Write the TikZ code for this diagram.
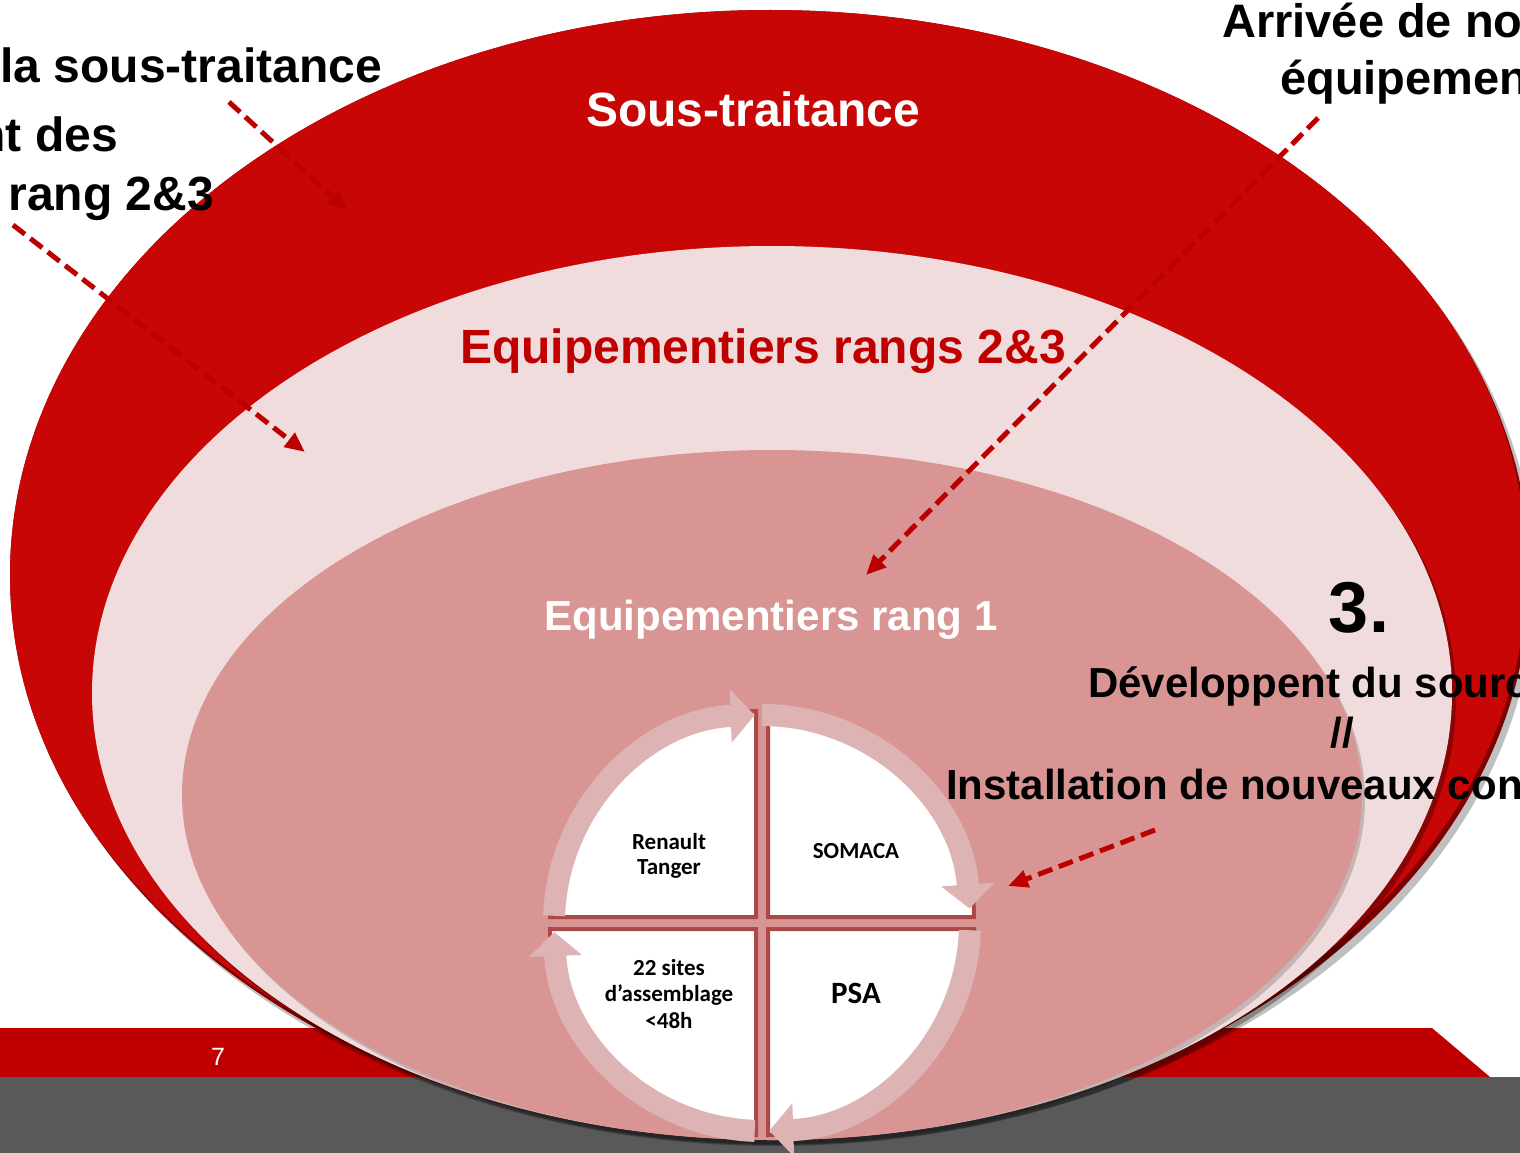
\documentclass[tikz,border=0pt]{standalone}
\usepackage{fontspec}
\setmainfont{Liberation Sans}
\newfontfamily\cbfont{Carlito}
\usetikzlibrary{arrows.meta}
\definecolor{ringred}{RGB}{200,6,6}
\definecolor{darkedge}{RGB}{125,0,0}
\definecolor{lightpink}{RGB}{240,220,220}
\definecolor{midpink}{RGB}{217,149,148}
\definecolor{barred}{RGB}{192,0,0}
\definecolor{bargray}{RGB}{89,89,89}
\definecolor{arcpink}{RGB}{221,179,179}
\definecolor{quadedge}{RGB}{173,72,72}
\definecolor{arrowred}{RGB}{188,0,0}
\definecolor{titlered}{RGB}{192,0,0}
\begin{document}
\begin{tikzpicture}[x=1pt,y=-1pt,
  bigtxt/.style={font=\bfseries\fontsize{48}{56}\selectfont, inner sep=0pt},
  sidetxt/.style={font=\bfseries\fontsize{48}{56}\selectfont, inner sep=0pt, text=black},
  toptxt/.style={font=\bfseries\fontsize{47}{54}\selectfont, inner sep=0pt, text=black},
  righttxt/.style={font=\bfseries\fontsize{42}{50}\selectfont, inner sep=0pt, text=black},
  quadtxt/.style={font=\cbfont\bfseries\fontsize{23}{25}\selectfont, align=center, inner sep=0pt, text=black},
  dasharrow/.style={draw=arrowred, line width=5pt, dash pattern=on 15pt off 7pt, -{Triangle[length=20pt,width=17pt]}},
  cyclearc/.style={draw=arcpink, line width=22pt, -{Triangle[length=24pt,width=52pt]}},
  quad/.style={fill=white, draw=quadedge, line width=4pt}
]
\useasboundingbox (0,0) rectangle (1520,1153);
\clip (0,0) rectangle (1520,1153);

% footer bars
\fill[barred] (0,1028) -- (1432,1028) -- (1490,1077) -- (0,1077) -- cycle;
\fill[bargray] (0,1077) rectangle (1520,1153);
\node[text=white, font=\fontsize{25}{28}\selectfont, inner sep=0pt] (pagenum) at (218,1057) {7};

% outer ellipse
\fill[black, opacity=0.25] (775,581) ellipse [x radius=760pt, y radius=565pt];
\fill[darkedge] (770,575) ellipse [x radius=760pt, y radius=565pt];
\begin{scope}
  \clip (770,575) ellipse [x radius=760pt, y radius=565pt];
  \fill[ringred] (767,570) ellipse [x radius=760pt, y radius=565pt];
\end{scope}

% middle ellipse
\fill[black, opacity=0.3] (776,698) ellipse [x radius=680pt, y radius=447pt];
\fill[lightpink] (772,693) ellipse [x radius=680pt, y radius=447pt];

% inner ellipse
\fill[black, opacity=0.18] (775,799) ellipse [x radius=590pt, y radius=345pt];
\fill[midpink] (772,795) ellipse [x radius=590pt, y radius=345pt];

% titles
\node[bigtxt, text=white, anchor=base] (soustraitance) at (753,127) {Sous-traitance};
\node[bigtxt, text=titlered, anchor=base] (rangs23) at (763,363) {Equipementiers rangs 2\&3};
\node[font=\bfseries\fontsize{42}{50}\selectfont, inner sep=0pt, text=white, anchor=base] (rang1) at (771,630) {Equipementiers rang 1};

% central cycle
\coordinate (C) at (762,923);
\path[quad] (756,917) -- ++(180:206pt) arc[start angle=180, end angle=90, radius=206pt] -- cycle;
\path[quad] (768,917) -- ++(90:206pt) arc[start angle=90, end angle=0, radius=206pt] -- cycle;
\path[quad] (768,929) -- ++(0:206pt) arc[start angle=0, end angle=-90, radius=206pt] -- cycle;
\path[quad] (756,929) -- ++(-90:206pt) arc[start angle=-90, end angle=-180, radius=206pt] -- cycle;

\draw[cyclearc] ([shift={(178:208pt)}]C) arc[start angle=178, end angle=92, radius=208pt];
\draw[cyclearc] ([shift={(90:208pt)}]C) arc[start angle=90, end angle=4, radius=208pt];
\draw[cyclearc] ([shift={(-2:208pt)}]C) arc[start angle=-2, end angle=-88, radius=208pt];
\draw[cyclearc] ([shift={(-92:208pt)}]C) arc[start angle=-92, end angle=-177.5, radius=208pt];

\node[quadtxt] (renault) at (669,856) {Renault\\Tanger};
\node[quadtxt] (somaca) at (856,851) {SOMACA};
\node[quadtxt, font=\cbfont\bfseries\fontsize{23}{26.5}\selectfont] (sites) at (669,994) {22 sites\\d’assemblage\\<48h};
\node[quadtxt, font=\cbfont\bfseries\fontsize{31}{35}\selectfont] (psa) at (856,993) {PSA};

% dashed arrows
\coordinate (a1s) at (229,102); \coordinate (a1e) at (347,210);
\coordinate (a2s) at (13,225);  \coordinate (a2e) at (305,452);
\coordinate (a3s) at (1318,118); \coordinate (a3e) at (866,575);
\coordinate (a4s) at (1155,830); \coordinate (a4e) at (1008,886);
\draw[dasharrow] (a1s) -- (a1e);
\draw[dasharrow] (a2s) -- (a2e);
\draw[dasharrow] (a3s) -- (a3e);
\draw[dasharrow] (a4s) -- (a4e);

% side texts
\node[sidetxt, anchor=base east] (souslbl) at (382,83) {la sous-traitance};
\node[sidetxt, anchor=base east] (deslbl) at (118,152) {nt des};
\node[sidetxt, anchor=base east] (ranglbl) at (214,210) {rang 2\&3};
\node[toptxt, anchor=base west] (arrlbl) at (1222,38) {Arrivée de no};
\node[toptxt, anchor=base west] (equiplbl) at (1280,95) {équipemen};
\node[font=\bfseries\fontsize{72}{80}\selectfont, inner sep=0pt, anchor=base] (three) at (1359,632) {3.};
\node[righttxt, anchor=base west] (devlbl) at (1088,697) {Développent du sourc};
\node[righttxt, anchor=base] (slashlbl) at (1342,747) {//};
\node[righttxt, anchor=base west] (instlbl) at (946,799) {Installation de nouveaux con};
\end{tikzpicture}
\end{document}
